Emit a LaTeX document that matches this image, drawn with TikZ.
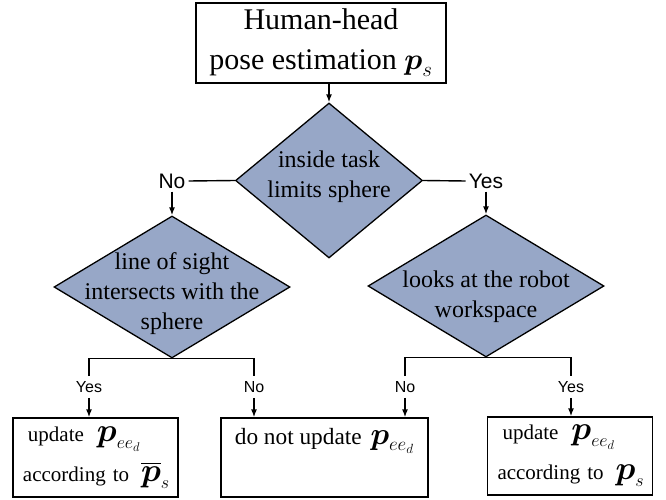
\RequirePackage{fix-cm}
\documentclass[tikz,border=0pt]{standalone}
\usepackage{amsmath}
\usepackage{fontspec}
\setmainfont{Liberation Serif}
\newfontfamily\labfont{Liberation Sans}
\usetikzlibrary{shapes.geometric,arrows.meta}
\definecolor{dfill}{RGB}{151,167,199}
\newcommand{\bigp}[1]{\mbox{\fontsize{#1}{#1}\selectfont$\boldsymbol{p}$}}
\newcommand{\bigpbar}[1]{\mbox{\fontsize{#1}{#1}\selectfont$\overline{\boldsymbol{p}}$}}
\newcommand{\mysub}[2]{\mbox{\fontsize{#1}{#1}\selectfont$#2$}}
\tikzset{
 box/.style={draw, line width=1.3pt, inner sep=0pt, align=center},
 sidebox/.style={box, align=left, text width=145pt, inner xsep=10pt, font=\fontsize{21}{40}\selectfont},
 dec/.style={draw, line width=1.3pt, fill=dfill, shape=diamond, inner sep=0pt},
 dtext/.style={align=center, font=\fontsize{24}{30}\selectfont, inner sep=0pt},
 lab/.style={font=\labfont\fontsize{21}{23}\selectfont, inner sep=3pt},
 slab/.style={font=\labfont\fontsize{16}{18}\selectfont, inner xsep=2pt, inner ysep=5pt},
 conn/.style={line width=1.4pt},
 arr/.style={conn, -{Latex[length=8pt,width=6pt]}},
}
\begin{document}
\begin{tikzpicture}[x=1pt,y=-1pt]
\useasboundingbox (0,0) rectangle (666,500);
\node[box, minimum width=250pt, minimum height=80pt, font=\fontsize{30}{40}\selectfont] (top) at (321,43) {Human-head\\pose estimation $\boldsymbol{p}_s$};
\node[dec, minimum width=187pt, minimum height=155pt] (d1) at (329,180.5) {};
\node[dtext] (t1) at (329,176.5) {inside task\\limits sphere};
\node[dec, minimum width=236pt, minimum height=142pt] (dL) at (172,287) {};
\node[dtext] (tL) at (172,294) {line of sight\\intersects with the\\sphere};
\node[dec, minimum width=236pt, minimum height=142pt] (dR) at (486,286) {};
\node[dtext] (tR) at (486,297) {looks at the robot\\workspace};
\node[lab] (no1) at (172,181) {No};
\node[lab] (yes1) at (486,181) {Yes};
\draw[conn] (d1.west) -- (no1.east);
\draw[conn] (d1.east) -- (yes1.west);
\draw[arr] (top.south -| d1.north) -- (d1.north);
\draw[arr] (no1.south) -- (dL.north);
\draw[arr] (yes1.south) -- (dR.north);
\node[slab] (yL) at (89,387) {Yes};
\node[slab] (nL) at (254,387) {No};
\node[slab] (nR) at (405,387) {No};
\node[slab] (yR) at (571,387) {Yes};
\draw[conn] (yL.north) |- (dL.south) -| (nL.north);
\draw[conn] (nR.north) |- (dR.south) -| (yR.north);
\node[sidebox, minimum height=79pt] (bL) at (95.5,457.5) {\mbox{\hspace*{5pt}update\hspace{6pt} $\bigp{33}_{\mysub{18}{ee_d}}$}\\\mbox{according to\hspace{5pt} $\bigpbar{33}_{\mysub{18}{s}}$}};
\node[box, minimum width=207pt, text height=26pt, text depth=53pt, font=\fontsize{23.3}{38}\selectfont] (bM) at (324.5,457.5) {do not update\hspace{3pt} $\bigp{31}_{\mysub{19}{ee_d}}$};
\node[sidebox, minimum height=78pt] (bR) at (570,456) {\mbox{\hspace*{5pt}update\hspace{6pt} $\bigp{33}_{\mysub{18}{ee_d}}$}\\\mbox{according to\hspace{5pt} $\bigp{33}_{\mysub{18}{s}}$}};
\draw[arr] (yL.south) -- (yL.south |- bL.north);
\draw[arr] (nL.south) -- (nL.south |- bM.north);
\draw[arr] (nR.south) -- (nR.south |- bM.north);
\draw[arr] (yR.south) -- (yR.south |- bR.north);
\end{tikzpicture}
\end{document}
